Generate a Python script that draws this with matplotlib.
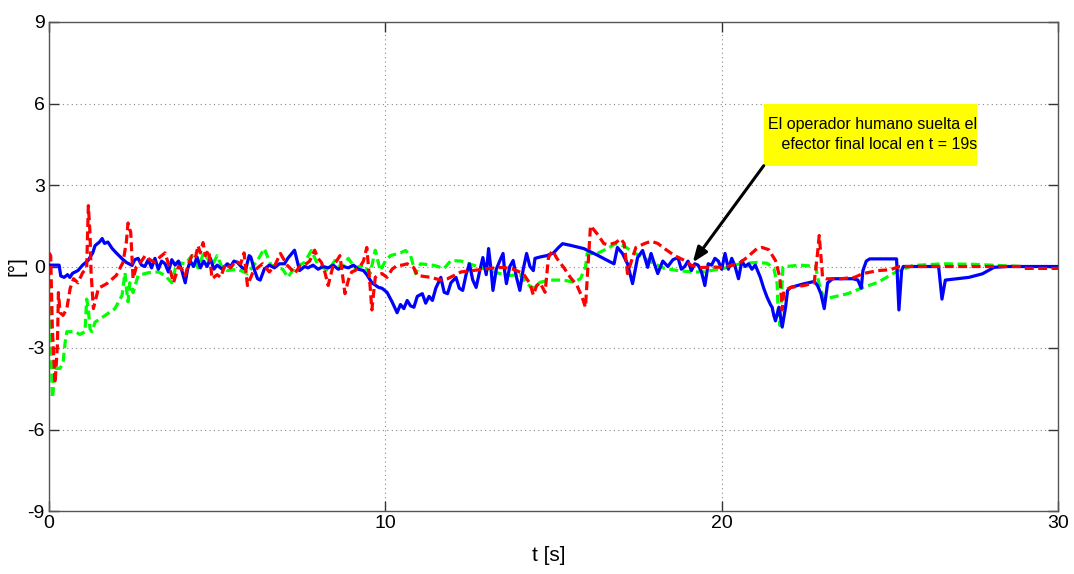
import matplotlib
matplotlib.use("Agg")
import matplotlib.pyplot as plt
from matplotlib.patches import Rectangle

plt.rcParams['font.family'] = ['Liberation Sans', 'DejaVu Sans']
plt.rcParams['axes.unicode_minus'] = False

# ---- data (time [s], angle [deg]) ----
blue_t = [0.00, 0.30, 0.35, 0.45, 0.55, 0.62, 0.70, 0.86, 1.00, 1.16, 1.30, 1.37, 1.50, 1.58, 1.65, 1.75, 1.88, 2.00,
          2.17, 2.30, 2.47, 2.55, 2.65, 2.75, 2.85, 2.95, 3.05, 3.15, 3.25, 3.35, 3.45, 3.55, 3.65, 3.75, 3.85, 3.95,
          4.05, 4.12, 4.20, 4.30, 4.40, 4.50, 4.60, 4.70, 4.80, 4.90, 5.00, 5.15, 5.30, 5.40, 5.50, 5.60, 5.75, 5.85,
          5.95, 6.00, 6.10, 6.20, 6.28, 6.40, 6.55, 6.70, 6.85, 7.00, 7.10, 7.20, 7.30, 7.38, 7.45, 7.60, 7.70, 7.85,
          8.00, 8.15, 8.30, 8.45, 8.60, 8.75, 8.90, 9.05, 9.20, 9.35, 9.45, 9.60, 9.80, 9.90, 10.05, 10.20, 10.35,
          10.45, 10.55, 10.65, 10.75, 10.85, 10.95, 11.10, 11.20, 11.30, 11.40, 11.50, 11.65, 11.75, 11.85, 11.95,
          12.10, 12.20, 12.30, 12.40, 12.50, 12.60, 12.70, 12.80, 12.90, 13.00, 13.07, 13.15, 13.20, 13.30, 13.40,
          13.50, 13.55, 13.60, 13.70, 13.80, 13.90, 14.00, 14.10, 14.20, 14.30, 14.40, 14.45, 14.60, 14.80, 15.00,
          15.15, 15.27, 15.50, 15.90, 16.30, 16.70, 16.80, 16.90, 17.05, 17.20, 17.35, 17.50, 17.65, 17.80, 17.90,
          18.00, 18.10, 18.25, 18.40, 18.55, 18.70, 18.80, 18.90, 19.00, 19.10, 19.20, 19.30, 19.40, 19.50, 19.60,
          19.70, 19.80, 19.90, 20.00, 20.10, 20.20, 20.30, 20.40, 20.50, 20.60, 20.70, 20.80, 20.90, 21.00, 21.15,
          21.25, 21.35, 21.45, 21.50, 21.55, 21.60, 21.70, 21.80, 21.90, 21.96, 22.05, 22.40, 22.75, 22.85, 22.95,
          23.05, 23.15, 23.30, 23.90, 24.05, 24.15, 24.20, 24.30, 24.40, 25.20, 25.27, 25.35, 25.40, 26.45, 26.55,
          26.65, 27.00, 27.35, 27.75, 28.10, 28.50, 30.00]
blue_v = [0.05, 0.05, -0.35, -0.40, -0.30, -0.40, -0.25, -0.15, 0.05, 0.22, 0.50, 0.77, 0.90, 1.03, 0.85, 0.90, 0.66, 0.50,
          0.29, 0.15, 0.04, 0.25, 0.30, 0.05, 0.00, 0.25, -0.05, 0.30, -0.10, 0.20, 0.10, -0.20, 0.25, 0.05, 0.20, -0.15,
          -0.60, -0.10, 0.20, 0.00, 0.35, -0.05, 0.20, 0.00, 0.30, -0.10, 0.05, -0.10, 0.10, 0.00, 0.20, 0.15, -0.05, -0.10,
          0.40, 0.35, -0.10, -0.45, -0.50, -0.10, 0.05, -0.05, 0.10, 0.10, 0.30, 0.45, 0.60, 0.20, -0.15, 0.00, -0.05, 0.05,
          -0.10, 0.00, -0.05, 0.05, -0.10, 0.00, -0.05, 0.05, -0.10, -0.15, -0.30, -0.60, -0.77, -0.80, -0.95, -1.30, -1.70,
          -1.40, -1.55, -1.25, -1.45, -1.50, -1.10, -1.00, -1.35, -1.10, -1.25, -0.80, -0.40, -0.95, -1.00, -0.60,
          -0.40, -0.80, -0.88, -0.30, 0.10, -0.50, -0.77, -0.20, 0.33, -0.30, 0.66, -0.20, -0.88, -0.10, 0.20,
          0.48, -0.20, -0.63, 0.00, 0.22, -0.40, -0.88, -0.10, 0.48, 0.00, -0.15, 0.30, 0.35, 0.40, 0.50,
          0.70, 0.84, 0.78, 0.66, 0.42, 0.16, 0.10, 0.70, 0.48, 0.10, -0.63, 0.33, 0.59, -0.03, 0.48,
          0.10, -0.26, 0.20, 0.00, 0.25, 0.33, -0.10, 0.00, 0.20, -0.15, 0.10, 0.05, -0.20, -0.70, 0.10,
          0.05, 0.30, 0.20, -0.10, 0.48, -0.10, 0.30, 0.00, -0.45, 0.20, 0.00, 0.10, -0.10, 0.05, -0.40,
          -0.80, -1.13, -1.40, -1.50, -1.80, -2.00, -1.50, -2.23, -1.50, -0.88, -0.77, -0.65, -0.55, -0.70, -1.00,
          -1.55, -0.60, -0.45, -0.45, -0.50, -0.80, -0.15, 0.20, 0.28, 0.28, -1.60, -0.15, 0.00, 0.00, -1.20,
          -0.50, -0.45, -0.40, -0.27, -0.03, 0.00, 0.00]

red_t = [0.00, 0.05, 0.10, 0.18, 0.25, 0.28, 0.33, 0.42, 0.53, 0.63, 0.73, 0.86, 1.00, 1.12, 1.17, 1.22, 1.25, 1.32,
         1.47, 1.72, 2.00, 2.20, 2.30, 2.35, 2.43, 2.50, 2.60, 2.75, 2.86, 3.00, 3.15, 3.30, 3.45, 3.55, 3.70, 3.85,
         3.95, 4.05, 4.15, 4.25, 4.35, 4.43, 4.50, 4.58, 4.65, 4.75, 4.85, 5.00, 5.10, 5.25, 5.40, 5.55, 5.70, 5.80,
         5.90, 6.05, 6.20, 6.35, 6.55, 6.70, 6.88, 7.08, 7.20, 7.30, 7.45, 7.60, 7.75, 7.90, 8.00, 8.10, 8.20, 8.30,
         8.45, 8.55, 8.65, 8.80, 8.90, 9.00, 9.10, 9.25, 9.35, 9.45, 9.55, 9.60, 9.70, 9.80, 9.90, 10.05, 10.20,
         10.35, 10.50, 10.65, 10.85, 10.95, 11.35, 11.65, 11.85, 12.25, 12.60, 13.10, 13.50, 13.80, 14.10, 14.30,
         14.40, 14.50, 14.60, 14.75, 14.85, 14.97, 15.10, 15.30, 15.50, 15.70, 15.85, 15.95, 16.00, 16.10, 16.30,
         16.50, 16.65, 16.85, 17.00, 17.10, 17.20, 17.35, 17.45, 17.70, 17.90, 18.10, 18.30, 18.60, 18.90, 19.10,
         19.40, 19.70, 20.05, 20.50, 20.75, 21.05, 21.20, 21.40, 21.60, 21.73, 21.80, 21.85, 22.05, 22.45, 22.75,
         22.85, 22.90, 22.95, 23.00, 23.10, 23.55, 23.95, 24.20, 24.65, 25.00, 25.30, 28.90, 29.00, 30.00]
red_v = [0.50, 0.40, -2.30, -4.30, -2.90, -0.96, -1.70, -1.80, -1.55, -0.80, -0.45, -0.60, -0.23, -0.05, 2.24, 1.20, -0.20, -1.55,
         -0.80, -0.63, -0.33, 0.15, 0.90, 1.60, 1.25, -0.45, 0.00, 0.20, 0.40, 0.25, 0.15, 0.35, 0.50, 0.10, -0.60, 0.00,
         -0.10, -0.33, 0.10, 0.40, 0.30, 0.77, 0.50, 0.88, 0.40, 0.60, -0.45, -0.30, -0.40, 0.10, -0.05, 0.20, 0.10, 0.50,
         -0.70, -0.25, -0.05, 0.10, -0.20, 0.00, 0.48, 0.05, -0.10, -0.26, 0.00, 0.05, 0.20, 0.60, 0.30, 0.15, -0.20, -0.70,
         0.05, 0.20, 0.40, -1.00, -0.50, -0.20, -0.15, 0.00, 0.20, 0.70, -0.77, -1.60, -0.40, -0.30, -0.26, -0.40, -0.10,
         0.04, 0.05, 0.10, -0.05, -0.33, -0.40, -0.50, -0.45, -0.20, -0.15, -0.07, -0.03, -0.10, -0.26, -0.63,
         -1.05, -0.70, -0.60, -0.95, 0.33, 0.59, 0.30, -0.03, -0.40, -0.70, -1.13, -1.50, -0.50, 1.50, 1.20,
         0.84, 0.80, 0.88, 1.02, 0.85, -0.26, 0.33, 0.70, 0.84, 0.93, 0.85, 0.66, 0.40, 0.22, 0.04,
         -0.04, -0.02, -0.03, 0.10, 0.33, 0.66, 0.70, 0.62, 0.22, -0.40, -1.60, -0.90, -0.77, -0.70, -0.60,
         0.48, 1.14, 0.40, -0.40, -0.45, -0.45, -0.40, -0.26, -0.15, -0.12, 0.00, 0.00, -0.07, -0.07]

green_t = [0.00, 0.05, 0.10, 0.15, 0.18, 0.33, 0.42, 0.48, 0.53, 0.77, 0.92, 1.07, 1.12, 1.17, 1.22, 1.27, 1.37, 1.67,
           1.96, 2.17, 2.26, 2.30, 2.35, 2.40, 2.50, 2.65, 2.95, 3.25, 3.45, 3.65, 3.80, 4.05, 4.25, 4.43, 4.60, 4.85,
           5.00, 5.15, 5.30, 5.60, 5.90, 6.20, 6.40, 6.60, 6.95, 7.10, 7.30, 7.60, 7.80, 8.00, 8.30, 8.50, 8.70, 8.90,
           9.10, 9.35, 9.55, 9.70, 9.85, 10.00, 10.15, 10.45, 10.60, 10.75, 10.90, 11.05, 11.45, 11.75, 11.95, 12.25,
           12.50, 12.80, 13.10, 13.40, 13.70, 14.00, 14.20, 14.40, 14.60, 14.90, 15.30, 15.60, 15.80, 15.95, 16.00,
           16.30, 16.60, 16.85, 17.10, 17.40, 17.70, 18.00, 18.30, 18.70, 19.10, 19.45, 19.90, 20.05, 20.55, 21.05,
           21.35, 21.55, 21.65, 21.67, 21.73, 21.78, 21.82, 21.90, 22.35, 22.80, 22.85, 22.95, 23.05, 23.15, 23.75,
           24.15, 24.65, 25.10, 25.27, 25.70, 26.60, 27.50, 28.90, 30.00]
green_v = [0.50, -2.30, -4.85, -4.30, -3.75, -3.75, -3.50, -2.80, -2.40, -2.40, -2.50, -2.40, -1.20, -1.55, -2.30, -2.40, -2.05, -1.80,
           -1.55, -1.07, -0.23, -0.80, -1.30, -0.60, -0.96, -0.33, -0.23, -0.20, -0.33, -0.60, 0.15, 0.10, 0.40, -0.05, 0.50, 0.04,
           0.40, -0.05, -0.15, -0.10, -0.26, 0.22, 0.66, 0.05, -0.10, -0.40, -0.05, 0.15, 0.59, 0.05, -0.15, 0.22, -0.05, 0.30,
           -0.05, 0.05, -0.26, 0.60, -0.15, 0.20, 0.40, 0.50, 0.59, 0.40, -0.26, 0.10, 0.04, -0.07, 0.22, 0.20,
           0.10, -0.03, -0.15, -0.26, -0.33, -0.30, -0.63, -0.80, -0.58, -0.50, -0.50, -0.58, -0.45, -0.03, 0.48,
           0.48, 0.66, 0.84, 0.75, 0.50, 0.30, 0.10, -0.07, -0.15, -0.20, -0.20, -0.10, -0.07, 0.10, 0.15,
           0.12, -0.07, -0.63, -1.35, -2.17, -1.13, -0.03, 0.00, 0.05, 0.00, -0.40, -0.88, -1.17, -1.17, -1.00,
           -0.80, -0.58, -0.26, -0.15, 0.04, 0.10, 0.08, 0.00, -0.03]

x_ticks = [0, 10, 20, 30]
y_ticks = [-9, -6, -3, 0, 3, 6, 9]
annot_text = "El operador humano suelta el\n   efector final local en t = 19s"
annot_tip = (19.14, 0.15)

# ---- figure ----
fig = plt.figure(figsize=(10.74, 5.74), dpi=100)
ax = fig.add_axes([49/1074, 1 - 511/574, (1058 - 49)/1074, (511 - 22)/574])

lw = 2.3
dash = (0, (2.8, 1.4))
ax.plot(blue_t, blue_v, color='#0000FF', lw=lw, zorder=3)
ax.plot(red_t, red_v, color='#FF0000', lw=lw, ls=dash, zorder=4)
ax.plot(green_t, green_v, color='#00FF00', lw=lw, ls=dash, zorder=2)

ax.set_xlim(0, 30)
ax.set_ylim(-9, 9)
ax.set_xticks(x_ticks)
ax.set_yticks(y_ticks)
ax.grid(True, ls=(0, (1, 3)), color='#888888', lw=0.8)
ax.tick_params(direction='in', length=7, width=1, top=True, right=True,
               labelsize=14, pad=3, colors='#333333', labelcolor='black')
for s in ax.spines.values():
    s.set_color('#555555')
    s.set_linewidth(1.0)

ax.set_xlabel('t [s]', fontsize=15)
ax.xaxis.set_label_coords(0.495, -0.072)
ax.set_ylabel('[°]', fontsize=15)
ax.yaxis.set_label_coords(-0.022, 0.5)

# annotation box + arrow
box_x0, box_x1, box_y0, box_y1 = 21.25, 27.6, 3.71, 5.99
ax.add_patch(Rectangle((box_x0, box_y0), box_x1 - box_x0, box_y1 - box_y0,
                       facecolor='#FFFF00', edgecolor='none', zorder=5))
ax.text((box_x0 + box_x1) / 2 + 0.05, (box_y0 + box_y1) / 2, annot_text, ha='center', va='center',
        multialignment='left', fontsize=11.5, linespacing=1.45, zorder=6)
ax.annotate('', xy=annot_tip, xytext=(box_x0, box_y0),
            arrowprops=dict(arrowstyle='-|>,head_length=0.9,head_width=0.35',
                            color='black', lw=2.2, shrinkA=0, shrinkB=0), zorder=7)

fig.savefig('out.png', dpi=100)
